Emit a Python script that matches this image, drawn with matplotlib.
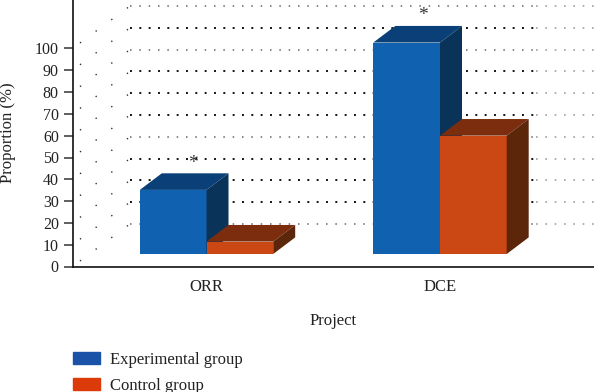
import matplotlib
matplotlib.use("Agg")
import matplotlib.pyplot as plt
from matplotlib.patches import Patch, Polygon

categories = ["ORR", "DCE"]
experimental = [29.4, 97.0]
control = [5.7, 54.3]
yticks = list(range(0, 101, 10))

W, H = 594, 392
plt.rcParams["font.family"] = ["Liberation Serif", "DejaVu Serif"]
fig = plt.figure(figsize=(W / 100, H / 100), dpi=100)
L, R, T, B = 72.5, 594, 0, 266.5
ax = fig.add_axes([L / W, 1 - B / H, (R - L) / W, (B - T) / H])
PY = 2.18
PX = 233.5
ax.set_ylim(0, (B - T) / PY)
ax.set_xlim((L - 206.5) / PX, (R - 206.5) / PX)

bw = 66.7 / PX
floor = 12.5 / PY
dx, dy = 22 / PX, 16.6 / PY
bx, by = 57.5 / PX, 42.5 / PY   # wall depth

# dotted perspective grid
x0 = ax.get_xlim()[0]
xsplit = (536 - 206.5) / PX
dark_levels = (90, 70, 60, 50, 30, 20, 10)
for v in yticks:
    wall = v + by
    ax.plot([x0 + 0.032, x0 + bx], [v + 0.032 / bx * by, wall], color="#333333",
            lw=1.0, dashes=(1, 13), zorder=1)
    c = "#111111" if v in dark_levels else "#666666"
    lw = 1.4 if v in dark_levels else 1.1
    period = 6.72 / lw
    ax.plot([x0 + bx, xsplit], [wall, wall], color=c, lw=lw,
            dashes=(1.0, period - 1.0), zorder=1)
    ax.plot([xsplit, ax.get_xlim()[1]], [wall, wall], color="#a0a0a0",
            lw=1.2, dashes=(1.0, 6.72 / 1.2 - 1.0), zorder=1)


def bar3d(x_left, val, front, top, side, z):
    ax.bar(x_left, val, bw, bottom=floor, align="edge", color=front, zorder=z, lw=0)
    xr = x_left + bw
    yt = floor + val
    ax.add_patch(Polygon([(x_left, yt), (xr, yt), (xr + dx, yt + dy), (x_left + dx, yt + dy)],
                         fc=top, ec="none", zorder=z))
    ax.add_patch(Polygon([(xr, floor), (xr + dx, floor + dy), (xr + dx, yt + dy), (xr, yt)],
                         fc=side, ec="none", zorder=z))


for i, (e, c) in enumerate(zip(experimental, control)):
    bar3d(i - bw, e, "#1161b1", "#0b3f78", "#0a3359", 3)
    bar3d(i, c, "#cb4814", "#7b2d0e", "#5c260b", 4)
    ax.text(i - bw + 53 / PX if i == 0 else i - bw + 50 / PX, floor + e + dy + 0.8,
            "*", ha="center", va="bottom", fontsize=14, color="#333333", zorder=6)

for s in ("top", "right"):
    ax.spines[s].set_visible(False)
for s in ("left", "bottom"):
    ax.spines[s].set_linewidth(1.2)
    ax.spines[s].set_color("#111111")
ax.set_yticks(yticks)
ax.set_yticklabels([str(v) for v in yticks], fontsize=11.5, color="#222222")
ax.tick_params(axis="y", length=6.5, width=1.1, pad=3.4, direction="out", color="#333333")
ax.set_xticks(range(len(categories)))
ax.set_xticklabels(categories, fontsize=12, color="#222222")
ax.tick_params(axis="x", length=0, pad=9)
ax.set_ylabel("Proportion (%)", fontsize=12, color="#222222")
ax.yaxis.set_label_coords((16 - L) / (R - L), (B - 133) / (B - T))
ax.set_xlabel("Project", fontsize=12, color="#222222")
ax.xaxis.set_label_coords((333 - L) / (R - L), (B - 325) / (B - T))
ax.xaxis.label.set_va("baseline")

handles = [Patch(color="#1a52a8", label="Experimental group"),
           Patch(color="#dd3a0a", label="Control group")]
fig.legend(handles=handles, loc="upper left", bbox_to_anchor=(72.5 / W, 1 - 351.5 / H),
           frameon=False, fontsize=12, handlelength=1.65, handleheight=0.75,
           handletextpad=0.6, labelspacing=0.6, borderpad=0, borderaxespad=0,
           labelcolor="#222222")
fig.savefig("out.png", dpi=100)
